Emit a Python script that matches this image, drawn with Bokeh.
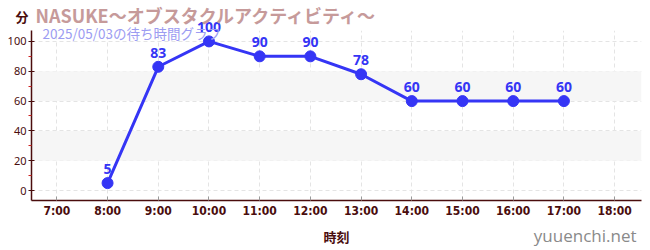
from bokeh.plotting import figure
from bokeh.models import ColumnDataSource, FixedTicker, BoxAnnotation, Range1d
from bokeh.core.properties import value
from bokeh.embed import file_html
from bokeh.resources import INLINE

hours = [8, 9, 10, 11, 12, 13, 14, 15, 16, 17]
waits = [5, 83, 100, 90, 90, 78, 60, 60, 60, 60]
tick_hours = [7, 8, 9, 10, 11, 12, 13, 14, 15, 16, 17, 18]
tick_labels = ["7:00", "8:00", "9:00", "10:00", "11:00", "12:00", "13:00",
               "14:00", "15:00", "16:00", "17:00", "18:00"]
y_ticks = [0, 20, 40, 60, 80, 100]
y_minor = [10, 30, 50, 70, 90]
bands = [(20, 40), (60, 80)]

title_text = "NASUKE～オブスタクルアクティビティ～"
subtitle_text = "2025/05/03の待ち時間グラフ"
unit_text = "分"
xlabel_text = "時刻"
credit_text = "yuuenchi.net"

LINE = "#3535f5"
MAROON = "#4a0d0d"

# frame geometry (canvas px)
FL, FR, FT, FB = 31, 641, 30, 200
X0, X1 = 6.5, 18.53
Y0, Y1 = -6.67, 107.33

p = figure(width=650, height=250, output_backend="svg", toolbar_location=None,
           x_range=Range1d(X0, X1), y_range=Range1d(Y0, Y1),
           min_border_left=FL, min_border_right=650 - FR, min_border_top=FT,
           min_border_bottom=250 - FB)
p.outline_line_color = None
p.background_fill_color = "white"


def px_x(cx):
    return X0 + (cx - FL) * (X1 - X0) / (FR - FL)


def px_y(cy):
    return Y1 - (cy - FT) * (Y1 - Y0) / (FB - FT)


for lo, hi in bands:
    p.add_layout(BoxAnnotation(bottom=lo, top=hi, fill_color="#f6f6f6",
                               fill_alpha=1, line_color=None, level="underlay"))

# grids
p.xgrid.ticker = FixedTicker(ticks=tick_hours)
p.ygrid.ticker = FixedTicker(ticks=y_ticks)
for g in (p.xgrid, p.ygrid):
    g.grid_line_color = "#e4e4e4"
    g.grid_line_dash = "4 3"
    g.grid_line_width = 1

# x axis
xa = p.xaxis[0]
xa.ticker = FixedTicker(ticks=tick_hours)
xa.major_label_overrides = {h: l for h, l in zip(tick_hours, tick_labels)}
xa.axis_line_color = MAROON
xa.axis_line_width = 1.5
xa.major_tick_in = 4
xa.major_tick_out = 0
xa.major_tick_line_color = "#999999"
xa.minor_tick_line_color = None
xa.major_label_text_color = MAROON
xa.major_label_text_font = "Liberation Sans Narrow, DejaVu Sans Condensed"
xa.major_label_text_font_style = "bold"
xa.major_label_text_font_size = "12px"
xa.major_label_standoff = 3
xa.axis_label = xlabel_text
xa.axis_label_text_font = "Noto Sans CJK JP"
xa.axis_label_text_font_style = "bold"
xa.axis_label_text_font_size = "13px"
xa.axis_label_text_color = MAROON
xa.axis_label_standoff = 6

# y axis
ya = p.yaxis[0]
ya.ticker = FixedTicker(ticks=y_ticks, minor_ticks=y_minor)
ya.axis_line_color = MAROON
ya.axis_line_width = 1.5
ya.major_tick_in = 3
ya.major_tick_out = 3
ya.major_tick_line_color = MAROON
ya.minor_tick_in = 0
ya.minor_tick_out = 3
ya.minor_tick_line_color = "#cc2222"
ya.major_label_text_color = MAROON
ya.major_label_text_font = "Noto Sans"
ya.major_label_text_font_size = "11px"
ya.major_label_standoff = 2

src = ColumnDataSource(dict(x=hours, y=waits, t=[str(v) for v in waits]))
p.line("x", "y", source=src, line_color=LINE, line_width=3)
p.scatter("x", "y", source=src, size=11, fill_color=LINE, line_color=LINE)
p.text("x", "y", text="t", source=src, y_offset=-14, text_align="center",
       text_baseline="middle", text_color=LINE,
       text_font=value("Noto Sans"), text_font_style="bold",
       text_font_size="14px", level="overlay")


def add_text(txt, cx, cy, size, color, bold=False, align="left",
             font="Noto Sans CJK JP"):
    p.text(x=[px_x(cx)], y=[px_y(cy)], text=[txt], text_font=value(font),
           text_font_size=size, text_color=color, text_align=align,
           text_baseline="middle",
           text_font_style="bold" if bold else "normal", level="overlay")


add_text(unit_text, 15, 16, "13px", MAROON, bold=True)
add_text(title_text, 35, 14, "18px", "#c69a9a", bold=True)
add_text(subtitle_text, 42, 32, "13.5px", "#9c9cf2")
add_text(credit_text, 636, 235, "17px", "#8a8a8a", align="right",
         font="Open Sans")

open("out.html", "w").write(file_html(p, INLINE))
